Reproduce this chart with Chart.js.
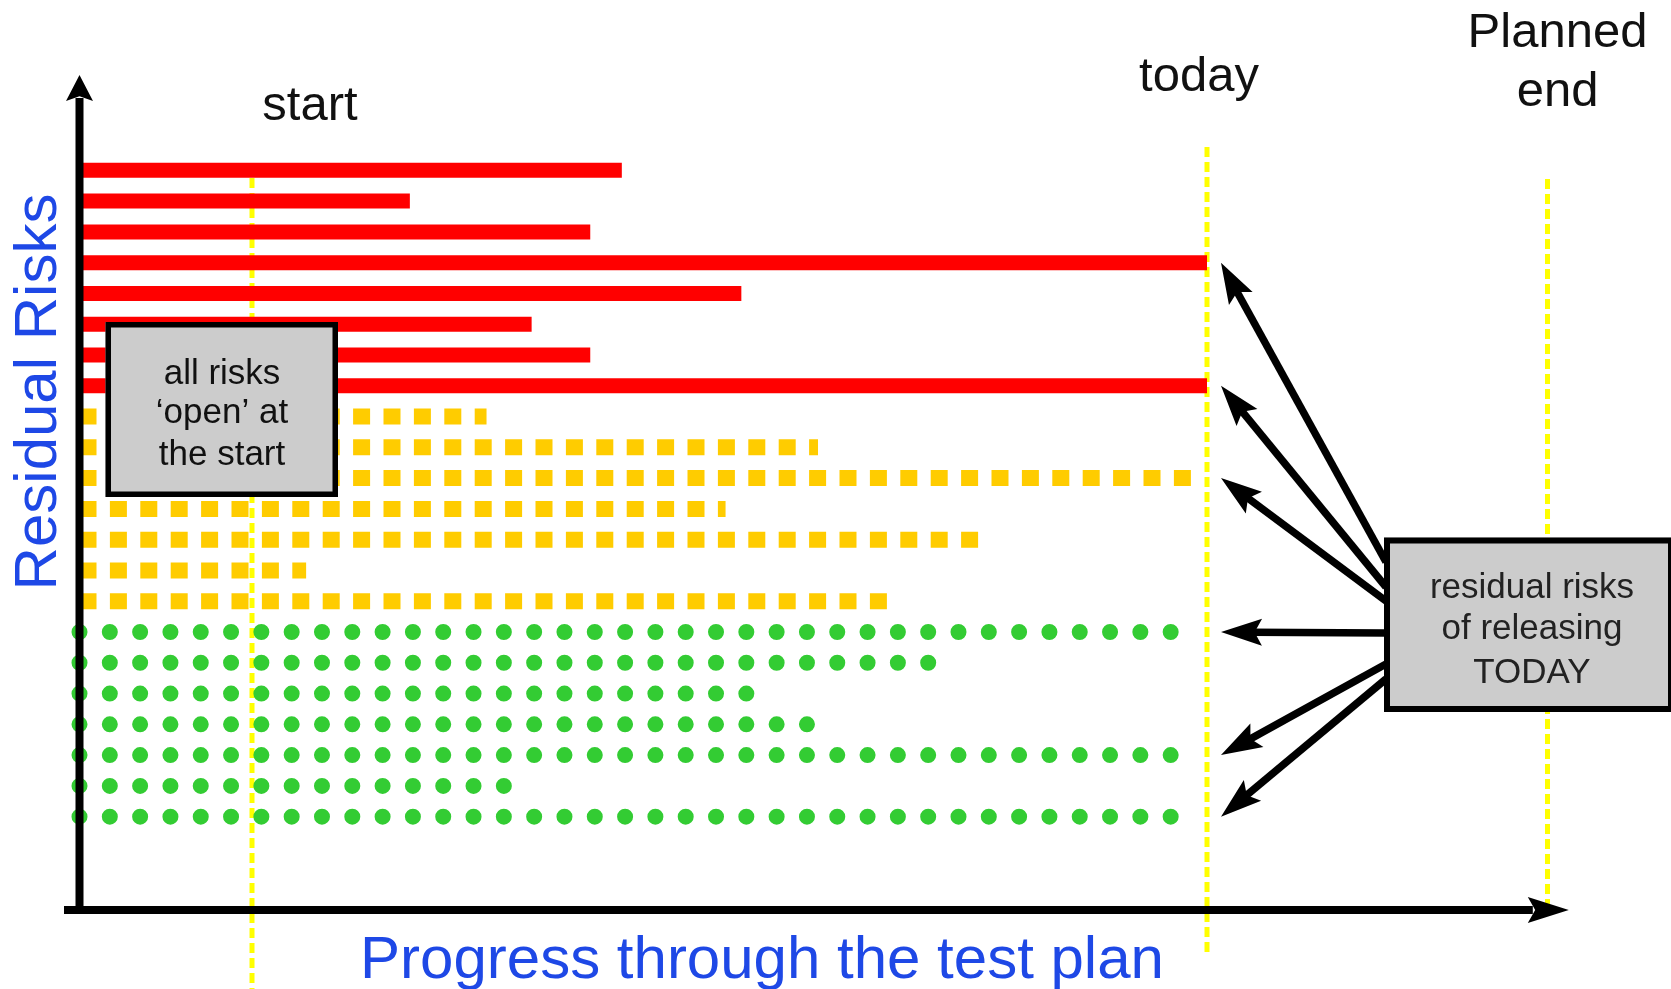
<!DOCTYPE html>
<html>
<head>
<meta charset="utf-8">
<script src="https://cdn.jsdelivr.net/npm/chart.js@4.4.1/dist/chart.umd.min.js"></script>
<style>
  html, body { margin: 0; padding: 0; background: #fff; }
  canvas { display: block; }
</style>
</head>
<body>
<canvas id="riskChart" width="1671" height="989"></canvas>
<script>
// progress units: axis = 0, today = 100
// rows are counted from the bottom: green 1-7, orange 8-14, red 15-22
const redEnds = [48.1, 29.3, 45.3, 100, 58.7, 40.1, 45.3, 100];
const orangeEnds = [36.1, 65.5, 98.8, 57.3, 80.2, 20.1, 72.0];
const greenEnds = [97.6, 76.3, 59.4, 64.6, 97.6, 37.8, 97.6];

const markerNames = ["start", "today", "Planned end"];
const markerValues = [15.3, 100, 130.2];

const xTitle = "Progress through the test plan";
const yTitle = "Residual Risks";
const startNote = ["all risks", "\u2018open\u2019 at", "the start"];
const todayNote = ["residual risks", "of releasing", "TODAY"];

const TODAY = markerValues[1];

// one dataset per risk, a flat line from 0 to where it was closed
const makeRows = (ends, topRow, color, style) =>
    ends.map((end, i) => ({
        data: [{ x: 0, y: topRow - i }, { x: end, y: topRow - i }],
        borderColor: color,
        clip: false,
        ...style
    }));

const datasets = [
    ...makeRows(redEnds, 22, "#ff0000", { borderWidth: 15, borderCapStyle: "butt" }),
    ...makeRows(orangeEnds, 14, "#ffcc00", { borderWidth: 16, borderDash: [17, 13.4], borderCapStyle: "butt" }),
    ...makeRows(greenEnds, 7, "#33cc33", { borderWidth: 16, borderDash: [0.01, 30.3], borderCapStyle: "round" })
];

function arrowHead(ctx, tipX, tipY, fromX, fromY, len, half) {
    const ang = Math.atan2(tipY - fromY, tipX - fromX);
    ctx.save();
    ctx.translate(tipX, tipY);
    ctx.rotate(ang);
    ctx.beginPath();
    ctx.moveTo(0, 0);
    ctx.lineTo(-len, -half);
    ctx.lineTo(-len * 0.82, 0);
    ctx.lineTo(-len, half);
    ctx.closePath();
    ctx.fill();
    ctx.restore();
}

function noteBox(ctx, x, y, w, h, border, lines, cx, baselines, color) {
    ctx.save();
    ctx.fillStyle = "#cccccc";
    ctx.fillRect(x, y, w, h);
    ctx.lineWidth = border;
    ctx.strokeStyle = "#000";
    ctx.strokeRect(x + border / 2, y + border / 2, w - border, h - border);
    ctx.fillStyle = color;
    ctx.font = "35px 'Liberation Sans', Arial, sans-serif";
    ctx.textAlign = "center";
    ctx.textBaseline = "alphabetic";
    lines.forEach((t, i) => ctx.fillText(t, cx, baselines[i]));
    ctx.restore();
}

const riskDecor = {
    id: "riskDecor",
    beforeDatasetsDraw(chart) {
        const ctx = chart.ctx;
        const xs = chart.scales.x;
        // dotted yellow markers: start / today / planned end
        const spans = [[178, 989], [147, 957], [179, 912]];
        ctx.save();
        ctx.strokeStyle = "#ffff00";
        ctx.lineWidth = 5;
        ctx.setLineDash([10, 5]);
        markerValues.forEach((v, i) => {
            const px = xs.getPixelForValue(v);
            ctx.beginPath();
            ctx.moveTo(px, spans[i][0]);
            ctx.lineTo(px, spans[i][1]);
            ctx.stroke();
        });
        ctx.restore();
    },
    afterDatasetsDraw(chart) {
        const ctx = chart.ctx;
        const xs = chart.scales.x;
        const ys = chart.scales.y;
        const area = chart.chartArea;
        const x0 = xs.getPixelForValue(0);
        const yBase = 910;

        ctx.save();
        ctx.fillStyle = "#000";
        ctx.strokeStyle = "#000";

        // y axis with arrow
        ctx.lineWidth = 8;
        ctx.beginPath();
        ctx.moveTo(x0, yBase + 4);
        ctx.lineTo(x0, area.top + 20);
        ctx.stroke();
        arrowHead(ctx, x0, area.top - 3, x0, area.top + 100, 26, 13.5);

        // x axis with arrow
        ctx.beginPath();
        ctx.moveTo(64, yBase);
        ctx.lineTo(area.right - 35, yBase);
        ctx.stroke();
        arrowHead(ctx, area.right + 1, yBase, 0, yBase, 41, 13);

        // marker labels
        ctx.fillStyle = "#111";
        ctx.font = "49px 'Liberation Sans', Arial, sans-serif";
        ctx.textAlign = "center";
        ctx.fillText(markerNames[0], xs.getPixelForValue(markerValues[0]) + 58, 120);
        ctx.fillText(markerNames[1], xs.getPixelForValue(markerValues[1]) - 8, 91);
        const endWords = markerNames[2].split(" ");
        ctx.fillText(endWords[0], xs.getPixelForValue(markerValues[2]) + 10, 47);
        ctx.fillText(endWords[1], xs.getPixelForValue(markerValues[2]) + 10, 106);

        // axis titles
        ctx.fillStyle = "#1e48e6";
        ctx.font = "60px 'Liberation Sans', Arial, sans-serif";
        ctx.fillText(xTitle, 762, 978);
        ctx.save();
        ctx.translate(56, 392);
        ctx.rotate(-Math.PI / 2);
        ctx.fillText(yTitle, 0, 0);
        ctx.restore();

        // note boxes
        noteBox(ctx, 105.5, 322, 232.5, 175, 5.5, startNote, 222, [383.5, 423, 465], "#111");
        noteBox(ctx, 1384, 537.5, 290, 174.5, 6, todayNote, 1532, [597.5, 639, 682.5], "#222");

        // arrows from the TODAY box to every risk still open at today
        const allRows = [
            ...redEnds.map((e, i) => ({ end: e, row: 22 - i })),
            ...orangeEnds.map((e, i) => ({ end: e, row: 14 - i })),
            ...greenEnds.map((e, i) => ({ end: e, row: 7 - i }))
        ].filter(r => r.end >= TODAY - 5);
        const fromY = [562, 587, 601, 633, 664, 679];
        const tipX = xs.getPixelForValue(TODAY) + 14;
        ctx.fillStyle = "#000";
        ctx.strokeStyle = "#000";
        ctx.lineWidth = 7.5;
        allRows.forEach((r, i) => {
            const ty = ys.getPixelForValue(r.row);
            const fx = 1386, fy = fromY[i];
            const ang = Math.atan2(ty - fy, tipX - fx);
            ctx.beginPath();
            ctx.moveTo(fx, fy);
            ctx.lineTo(tipX - Math.cos(ang) * 30, ty - Math.sin(ang) * 30);
            ctx.stroke();
            arrowHead(ctx, tipX, ty, fx, fy, 41, 13.5);
        });
        ctx.restore();
    }
};

new Chart(document.getElementById("riskChart"), {
    type: "line",
    data: { datasets },
    options: {
        responsive: false,
        animation: false,
        devicePixelRatio: 1,
        events: [],
        layout: { padding: { left: 79.5, right: 103.2, top: 78, bottom: 80 } },
        scales: {
            x: { type: "linear", min: 0, max: 132, display: false },
            y: { type: "linear", min: -2, max: 25, display: false }
        },
        elements: {
            point: { radius: 0, hoverRadius: 0 },
            line: { tension: 0 }
        },
        plugins: {
            legend: { display: false },
            tooltip: { enabled: false }
        }
    },
    plugins: [riskDecor]
});
</script>
</body>
</html>
